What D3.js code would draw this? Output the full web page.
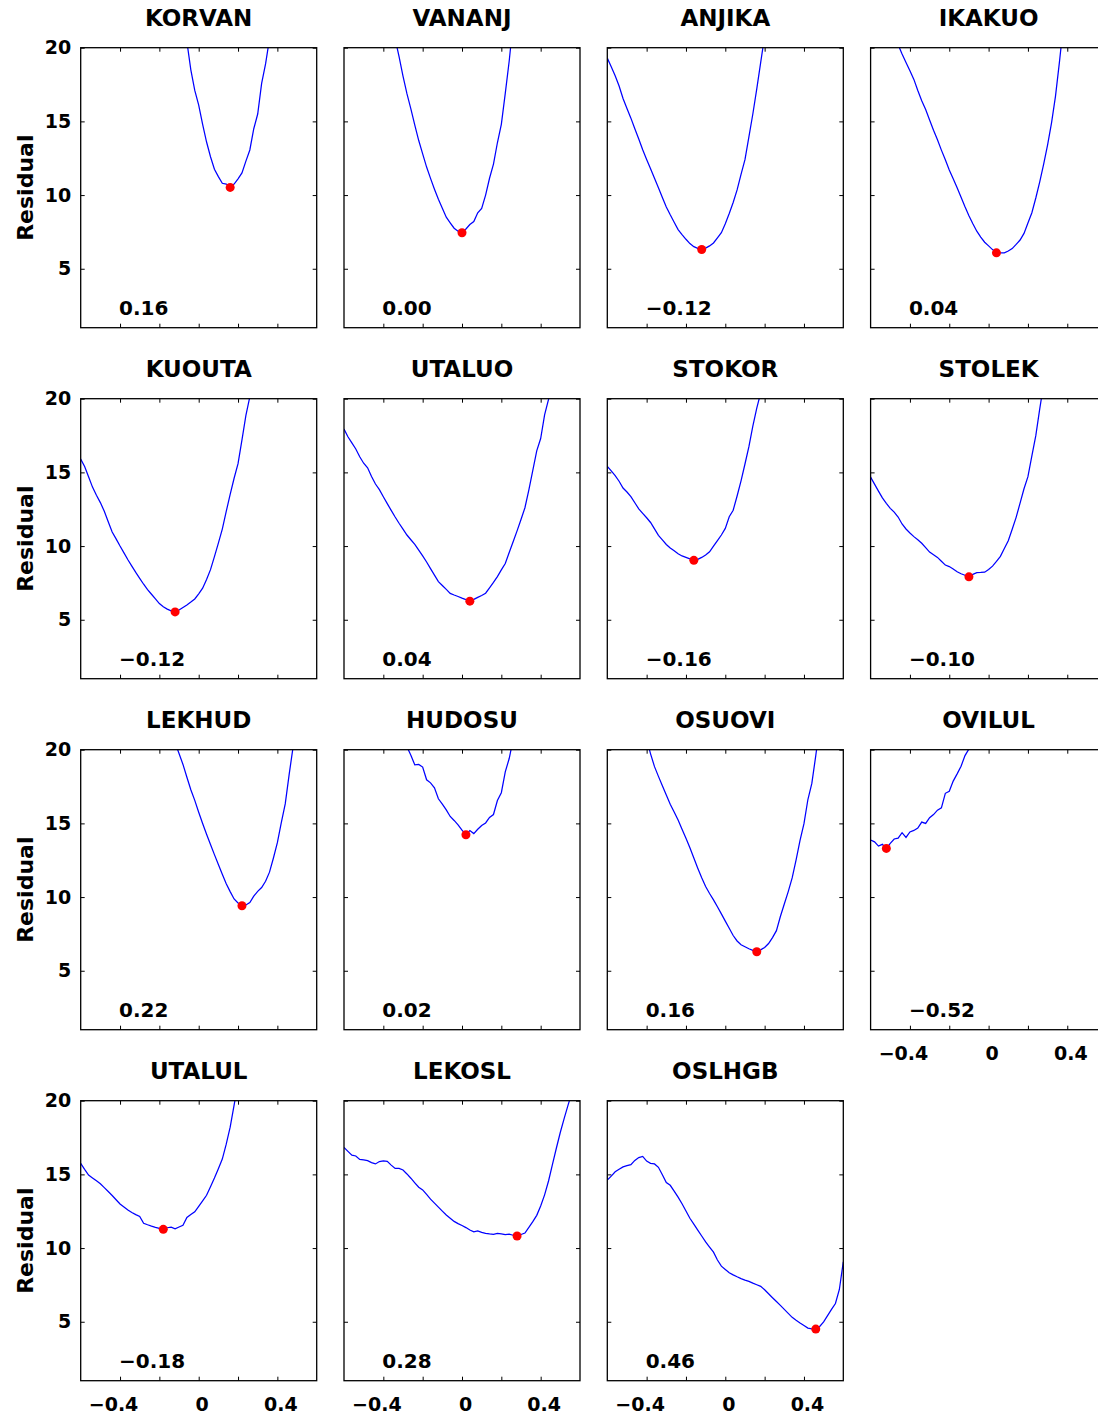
<!DOCTYPE html>
<html>
<head>
<meta charset="utf-8">
<script src="https://cdn.jsdelivr.net/npm/d3@7"></script>
<style>
body{margin:0;background:#fff;}
svg text{font-family:"DejaVu Sans",sans-serif;font-weight:bold;fill:#000;}
</style>
</head>
<body>
<svg width="1098" height="1420"></svg>
<script>
// station pairs, row by row
const panelNames = ["KORVAN","VANANJ","ANJIKA","IKAKUO",
                    "KUOUTA","UTALUO","STOKOR","STOLEK",
                    "LEKHUD","HUDOSU","OSUOVI","OVILUL",
                    "UTALUL","LEKOSL","OSLHGB"];

// shift grid (common x for every curve)
const shiftGrid = [-0.60,-0.58,-0.56,-0.54,-0.52,-0.50,-0.48,-0.46,-0.44,-0.42,
                   -0.40,-0.38,-0.36,-0.34,-0.32,-0.30,-0.28,-0.26,-0.24,-0.22,
                   -0.20,-0.18,-0.16,-0.14,-0.12,-0.10,-0.08,-0.06,-0.04,-0.02,
                    0.00, 0.02, 0.04, 0.06, 0.08, 0.10, 0.12, 0.14, 0.16, 0.18,
                    0.20, 0.22, 0.24, 0.26, 0.28, 0.30, 0.32, 0.34, 0.36, 0.38,
                    0.40, 0.42, 0.44, 0.46, 0.48, 0.50, 0.52, 0.54, 0.56, 0.58,
                    0.60];

// residual curves (values above 20 run off the top of the box)
const korvan = [30,30,30,30,30,30,30,30,30,30,
                30,30,30,30,30,30,30,30,30,30,
                30,30,30,28,26.5,24.5,22.5,20.4,18.5,17.1,
                16.1,14.8,13.6,12.6,11.75,11.25,10.8,10.75,10.6,10.75,
                11.1,11.5,12.3,13.06,14.5,15.5,17.58,18.9,20.6,22.5,
                24.5,26.5,28.5,30,30,30,30,30,30,30,
                30];
const vananj = [30,30,30,30,30,30,29,27.8,26.6,25.4,
                24.2,23.0,21.8,20.6,19.4,18.07,16.88,15.85,14.75,13.7,
                12.8,11.9,11.13,10.4,9.71,9.11,8.5,8.12,7.75,7.55,
                7.44,7.7,8.0,8.2,8.8,9.1,10.0,11.14,12.1,13.55,
                14.8,16.9,19.1,21.7,24.5,27,30,30,30,30,
                30,30,30,30,30,30,30,30,30,30,
                30];
const anjika = [19.3,18.7,18.1,17.4,16.55,15.88,15.22,14.5,13.8,13.08,
                12.42,11.78,11.14,10.5,9.84,9.19,8.66,8.16,7.66,7.32,
                7.0,6.71,6.5,6.38,6.31,6.4,6.55,6.75,7.1,7.45,
                8.05,8.75,9.5,10.35,11.4,12.4,13.95,15.5,17.2,19.0,
                20.8,23.2,25.6,28,30,30,30,30,30,30,
                30,30,30,30,30,30,30,30,30,30,
                30];
const ikakuo = [25.8,25,24.2,23.4,22.6,21.8,21.0,20.2,19.57,19.0,
                18.43,17.85,17.1,16.4,15.8,15.1,14.4,13.75,13.05,12.4,
                11.7,11.1,10.5,9.85,9.2,8.6,8.05,7.55,7.15,6.8,
                6.55,6.3,6.1,6.08,6.08,6.2,6.37,6.65,6.95,7.4,
                8.1,8.8,9.8,10.9,12.1,13.4,14.9,16.7,19.0,21.5,
                24,26.5,29,30,30,30,30,30,30,30,
                30];
const kuouta = [15.9,15.4,14.7,14.0,13.45,12.95,12.36,11.65,10.95,10.49,
                10.0,9.54,9.07,8.64,8.21,7.81,7.41,7.05,6.73,6.41,
                6.1,5.88,5.72,5.6,5.53,5.66,5.83,6.0,6.2,6.41,
                6.76,7.14,7.73,8.4,9.28,10.2,11.15,12.35,13.51,14.6,
                15.59,17.21,18.87,20.13,21.4,22.6,23.9,25.1,26.4,27.6,
                28.9,30,30,30,30,30,30,30,30,30,
                30];
const utaluo = [17.94,17.42,17.0,16.59,16.06,15.62,15.31,14.72,14.21,13.83,
                13.35,12.88,12.42,11.97,11.55,11.15,10.75,10.43,10.12,9.73,
                9.33,8.92,8.47,8.03,7.59,7.32,7.06,6.79,6.68,6.58,
                6.47,6.37,6.27,6.38,6.52,6.65,6.8,7.16,7.53,7.93,
                8.38,8.82,9.56,10.29,11.03,11.8,12.6,13.82,15.13,16.46,
                17.3,18.9,19.95,21.5,23,24.5,26,27.5,29,30,
                30];
const stokor = [15.4,15.1,14.78,14.4,13.94,13.67,13.36,12.94,12.53,12.22,
                11.92,11.6,11.17,10.73,10.42,10.11,9.87,9.69,9.48,9.33,
                9.23,9.13,9.03,9.1,9.23,9.39,9.61,9.99,10.37,10.75,
                11.2,11.99,12.43,13.4,14.43,15.57,16.74,18.14,19.36,20.4,
                21.4,22.4,23.4,24.4,25.4,26.4,27.4,28.4,29.4,30,
                30,30,30,30,30,30,30,30,30,30,
                30];
const stolek = [14.68,14.2,13.73,13.27,12.9,12.56,12.3,11.97,11.5,11.16,
                10.89,10.64,10.43,10.19,9.89,9.59,9.41,9.23,8.97,8.71,
                8.61,8.45,8.26,8.12,8.02,7.91,8.08,8.2,8.21,8.23,
                8.41,8.64,8.96,9.3,9.83,10.36,11.14,11.95,12.91,13.89,
                14.71,16.12,17.49,19.31,21.0,22.7,24.4,26.1,27.8,29.5,
                30,30,30,30,30,30,30,30,30,30,
                30];
const lekhud = [30,30,30,30,30,30,30,30,30,30,
                30,30,29.36,28.62,27.88,27.14,26.4,25.66,24.92,24.18,
                23.44,22.7,21.96,21.22,20.48,19.74,19.0,18.13,17.28,16.56,
                15.76,14.99,14.26,13.57,12.88,12.21,11.55,10.91,10.37,9.87,
                9.6,9.42,9.46,9.63,10.06,10.39,10.65,11.07,11.69,12.65,
                13.69,15.05,16.32,18.33,20.19,22.0,23.9,25.8,27.7,29.6,
                30];
const hudosu = [29.8,29.2,28.6,28.0,27.4,26.8,26.2,25.6,25.0,24.4,
                23.8,23.2,22.6,22.0,21.4,20.8,20.2,19.62,18.97,19.0,
                18.82,17.96,17.75,17.41,16.67,16.31,15.92,15.47,15.2,14.9,
                14.54,14.24,14.51,14.31,14.6,14.86,15.03,15.4,15.6,16.55,
                17.08,18.5,19.4,20.7,22.0,23.3,24.6,25.9,27.2,28.5,
                29.8,30,30,30,30,30,30,30,30,30,
                30];
const osuovi = [30,29.1,28.2,27.2,26.3,25.4,24.4,23.5,22.5,21.6,
                20.7,19.72,18.85,18.19,17.55,16.92,16.3,15.77,15.23,14.61,
                13.99,13.34,12.65,11.96,11.31,10.72,10.24,9.81,9.34,8.86,
                8.37,7.88,7.39,7.02,6.76,6.63,6.49,6.38,6.29,6.42,
                6.58,6.85,7.25,7.72,8.68,9.53,10.37,11.3,12.52,13.85,
                14.98,16.62,17.71,19.6,21.6,23.6,25.6,27.6,29.6,30,
                30];
const ovilul = [13.87,13.75,13.46,13.58,13.3,13.64,13.94,14.0,14.37,14.05,
                14.42,14.52,14.68,15.09,15.0,15.39,15.6,15.9,16.05,17.04,
                17.18,17.87,18.36,18.88,19.6,20.05,20.9,21.8,22.7,23.6,
                24.5,25.4,26.3,27.2,28.1,29,30,30,30,30,
                30,30,30,30,30,30,30,30,30,30,
                30,30,30,30,30,30,30,30,30,30,
                30];
const utalul = [15.75,15.34,14.95,14.76,14.56,14.36,14.1,13.84,13.57,13.28,
                12.99,12.79,12.58,12.41,12.27,12.14,11.68,11.58,11.49,11.41,
                11.34,11.27,11.38,11.42,11.3,11.43,11.55,12.08,12.28,12.46,
                12.83,13.2,13.58,14.16,14.75,15.39,16.04,17.05,18.2,19.7,
                21.2,22.7,24.2,25.7,27.2,28.7,30,30,30,30,
                30,30,30,30,30,30,30,30,30,30,
                30];
const lekosl = [16.83,16.56,16.3,16.25,16.02,15.98,15.93,15.8,15.71,15.87,
                15.91,15.88,15.63,15.4,15.4,15.3,15.03,14.74,14.43,14.13,
                13.95,13.64,13.32,13.05,12.78,12.51,12.25,12.03,11.81,11.66,
                11.53,11.39,11.23,11.1,11.17,11.06,11.0,10.96,10.93,11.0,
                10.97,10.91,10.94,10.87,10.82,10.92,11.02,11.4,11.79,12.22,
                12.86,13.61,14.55,15.68,16.79,17.86,18.82,19.73,20.6,21.5,
                22.4];
const oslhgb = [14.62,14.88,15.18,15.35,15.51,15.6,15.66,15.95,16.14,16.22,
                15.9,15.75,15.71,15.48,14.98,14.45,14.26,13.86,13.46,13.01,
                12.52,12.02,11.62,11.22,10.82,10.42,10.07,9.72,9.19,8.77,
                8.55,8.33,8.18,8.05,7.93,7.83,7.74,7.62,7.51,7.4,
                7.17,6.9,6.63,6.37,6.11,5.84,5.57,5.3,5.1,4.92,
                4.75,4.57,4.52,4.5,4.68,4.99,5.42,5.84,6.24,7.19,
                9.07];

const curves = [korvan,vananj,anjika,ikakuo,kuouta,utaluo,stokor,stolek,
                lekhud,hudosu,osuovi,ovilul,utalul,lekosl,oslhgb];

// best shift (label + red dot) and residual there
const bestShift = [0.16,0.00,-0.12,0.04,-0.12,0.04,-0.16,-0.10,0.22,0.02,0.16,-0.52,-0.18,0.28,0.46];
const bestResidual = [10.52,7.44,6.31,6.08,5.53,6.26,9.03,7.91,9.41,14.23,6.29,13.3,11.27,10.82,4.5];

const xTicks = [-0.4,-0.2,0,0.2,0.4];
const xLabelTicks = [-0.4,0,0.4];
const yTicks = [5,10,15,20];
const yLabel = "Residual";

/* layout */
const svg = d3.select('svg');
const left0 = 80.7, colStep = 263.3, top0 = 47.7, rowStep = 351;
const pw = 236, ph = 280;
const ncol = 4;

const x = d3.scaleLinear().domain([-0.6,0.6]).range([0,pw]);
const y = d3.scaleLinear().domain([1,20]).range([ph,0]);

const minus = v => (v<0 ? "\u2212" : "");
const fmtTick = v => xLabelTicks.some(t => Math.abs(t-v)<1e-9) ? (v===0 ? "0" : minus(v)+Math.abs(v).toFixed(1)) : "";
const fmtShift = v => minus(v) + Math.abs(v).toFixed(2);

const line = d3.line()
     .x(d => x(d[0]))
     .y(d => y(d[1]));

// which panels carry x tick labels (bottom of each column)
const hasXLabels = i => i >= panelNames.length - ncol;

panelNames.forEach((name,i) => {
     const col = i % ncol, row = Math.floor(i / ncol);
     const g = svg.append('g')
          .attr('transform', `translate(${left0 + col*colStep},${top0 + row*rowStep})`);

     g.append('clipPath').attr('id','clip'+i)
          .append('rect').attr('width',pw).attr('height',ph);

     const pts = shiftGrid.map((s,k) => [s, curves[i][k]]);
     g.append('path')
          .datum(pts)
          .attr('clip-path',`url(#clip${i})`)
          .attr('fill','none')
          .attr('stroke','#0000ff')
          .attr('stroke-width',1.25)
          .attr('d',line);

     g.append('circle')
          .attr('cx',x(bestShift[i]))
          .attr('cy',y(bestResidual[i]))
          .attr('r',4.5)
          .attr('fill','#ff0000');

     // axes, ticks pointing inward
     const xb = g.append('g').attr('transform',`translate(0,${ph})`)
          .call(d3.axisBottom(x).tickValues(xTicks).tickSize(-4).tickPadding(16.5)
               .tickFormat(hasXLabels(i) ? fmtTick : ''));
     xb.selectAll('text')
          .attr('dx', d => d < 0 ? -7 : 3)
          .style('font-size','19px');
     g.append('g')
          .call(d3.axisTop(x).tickValues(xTicks).tickSize(-4).tickFormat(''));
     const yl = g.append('g')
          .call(d3.axisLeft(y).tickValues(yTicks).tickSize(-4).tickPadding(9.5)
               .tickFormat(col === 0 ? d3.format('d') : ''));
     yl.selectAll('text').style('font-size','19px');
     g.append('g').attr('transform',`translate(${pw},0)`)
          .call(d3.axisRight(y).tickValues(yTicks).tickSize(-4).tickFormat(''));

     g.selectAll('.domain').remove();
     g.selectAll('.tick line').attr('stroke','#000').attr('stroke-width',1);
     g.selectAll('.tick text').attr('font-family',null).attr('fill','#000');

     g.append('rect')
          .attr('width',pw).attr('height',ph)
          .attr('fill','none')
          .attr('stroke','#000')
          .attr('stroke-width',1.3);

     g.append('text')
          .attr('x',pw/2)
          .attr('y',-21.5)
          .attr('text-anchor','middle')
          .style('font-size','23px')
          .text(name);

     g.append('text')
          .attr('x',x(-0.4)-1)
          .attr('y',ph-12.5)
          .style('font-size','20px')
          .text(fmtShift(bestShift[i]));

     if (col === 0) {
          g.append('text')
               .attr('transform',`translate(-47.7,${ph/2})rotate(-90)`)
               .attr('text-anchor','middle')
               .style('font-size','22px')
               .text(yLabel);
     }
});
</script>
</body>
</html>
